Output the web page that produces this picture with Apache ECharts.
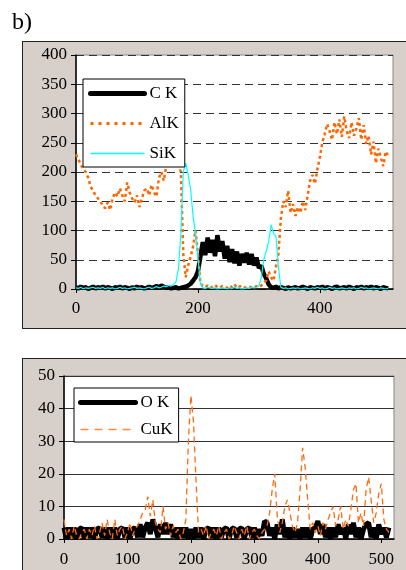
<!DOCTYPE html>
<html>
<head>
<meta charset="utf-8">
<script src="https://cdn.jsdelivr.net/npm/echarts@6/dist/echarts.min.js"></script>
<style>
html,body{margin:0;padding:0;background:#fff;}
#wrap{position:relative;width:406px;height:570px;overflow:hidden;}
.panel{position:absolute;left:22px;width:400px;background:#d7cfc9;border:1.5px solid #222;box-sizing:border-box;}
#main{position:absolute;left:0;top:0;width:406px;height:570px;}
</style>
</head>
<body>
<div id="wrap">
  <div class="panel" style="top:41px;height:288px;"></div>
  <div class="panel" style="top:358px;height:240px;"></div>
  <div id="main"></div>
</div>
<script>
var step = 4; //采样间隔(通道)
var fontName = 'Liberation Serif';

// 上图
var ckData = [
    3,1,4,2,3,0,2,4,1,3,
    2,4,1,3,2,0,3,2,4,1,
    3,2,0,3,1,4,2,3,1,2,
    4,2,3,5,3,6,4,2,3,1,
    2,3,1,2,3,4,6,9,14,20,
    30,55,80,58,88,62,84,56,92,64,
    82,52,74,46,68,44,64,40,60,45,
    62,42,60,40,54,36,40,26,18,8,
    3,2,4,1,3,2,0,3,1,2,
    3,1,2,4,2,0,3,2,1,3,
    2,4,1,3,2,0,3,4,1,2,
    3,1,4,2,0,3,2,4,1,3,
    2,4,1,3,2,0,3,2,1
];
var alkData = [
    230,222,212,205,200,190,175,168,160,155,
    150,142,138,148,135,155,165,158,172,160,
    150,182,165,155,148,160,140,155,168,172,
    160,178,165,158,190,200,185,210,220,215,
    225,220,212,200,60,20,40,55,72,100,
    60,10,5,3,6,2,4,7,3,2,
    5,4,2,6,3,8,2,4,6,3,
    2,4,3,2,5,3,6,10,15,30,
    20,14,38,60,120,150,140,168,130,145,
    125,140,130,150,135,160,185,195,180,205,
    225,250,265,282,270,255,285,265,290,260,
    295,270,258,285,262,275,292,255,280,248,
    262,230,252,215,240,225,210,235,228
];
var sikData = [
    2,1,3,0,2,1,2,3,1,2,
    1,3,0,2,1,2,0,1,3,1,
    2,0,1,2,3,1,2,1,0,2,
    3,1,2,4,2,3,5,4,6,5,
    8,12,35,95,200,215,195,170,125,95,
    55,10,2,1,3,2,1,2,0,1,
    2,1,0,2,1,3,1,2,0,1,
    2,1,3,2,3,5,20,50,65,80,
    110,95,90,38,3,1,2,0,1,2,
    1,2,0,1,2,1,0,2,1,3,
    1,2,0,1,3,1,2,0,1,2,
    1,0,2,1,2,0,1,3,1,2,
    0,1,2,1,0,2,1,0,1
];

// 下图
var okData = [
    3.5,0,3.5,0.5,3.5,0,3,3.5,0,3.5,
    0.5,3.5,0,3,3.5,0.5,3.5,0,3.5,0.5,
    3.5,0,3,3.5,0.5,3.5,0,3,3.5,0.5,
    4.5,0.5,3.5,5,1.5,6,3.5,0.5,4.5,1.5,
    5,1.5,4.5,0.5,3.5,0,3.5,0.5,3.5,0,
    3,0,3.5,0.5,3.5,0,3,3.5,0.5,3.5,
    0,3.5,0.5,3,3.5,0,3,3.5,0.5,3,
    3.5,0,3,3.5,0.5,3.5,0,3,1,5.5,
    5,1,3.5,0,4.5,1.5,6,0.5,3.5,0,
    3.5,0.5,3,0,3.5,0.5,3.5,0,3,3.5,
    5.5,1.5,4.5,0.5,3.5,0,3.5,0.5,4.5,1.5,
    3.5,0,4.5,1.5,5,0.5,3.5,0,3,4.5,
    5,0.5,3.5,0,4.5,1.5,3.5,0.5,3.5
];
var cukData = [
    6,1,3,0,4,1,0,2,3,0,
    3,1,4,0,2,5,1,6,2,0,
    6,1,3,4,0,2,5,1,3,4,
    6,8,9,13,7,12,5,3,2,10,
    3,5,1,4,2,3,0,2,6,30,
    44,36,18,2,3,1,4,0,2,3,
    1,4,0,2,3,0,1,4,2,0,
    3,1,4,0,2,3,1,0,2,3,
    4,8,15,20,7,2,5,10,12,8,
    4,2,5,15,28,22,12,3,5,2,
    4,1,5,3,6,8,10,4,6,10,
    3,6,4,9,15,17,5,8,4,15,
    19,12,5,8,14,17,6,3,2
];

var topX = {max: 520, interval: 200};
var topY = {max: 400, interval: 50};
var botX = {max: 520, interval: 100};
var botY = {max: 50, interval: 10};

function toPairs(arr){
    var out = [];
    for(var i = 0 ; i < arr.length ; i++){
        out.push([i * step, arr[i]]);
    }
    return out;
}

function xAxisOf(idx, cfg, margin){
    return {
        gridIndex: idx, type: 'value', min: 0, max: cfg.max, interval: cfg.interval,
        axisLine: {show: true, onZero: false, lineStyle: {color: '#000', width: 1.5}},
        axisTick: {show: true, length: 4, lineStyle: {color: '#000'}},
        axisLabel: {showMaxLabel: false, margin: margin, color: '#000', fontFamily: fontName, fontSize: 17},
        splitLine: {show: false}
    };
}

function yAxisOf(idx, cfg, lineType){
    return {
        gridIndex: idx, type: 'value', min: 0, max: cfg.max, interval: cfg.interval,
        axisLine: {show: true, lineStyle: {color: '#000', width: 1.5}},
        axisTick: {show: true, length: 5, lineStyle: {color: '#000'}},
        axisLabel: {margin: 9, color: '#000', fontFamily: fontName, fontSize: 17},
        splitLine: {show: true, lineStyle: {color: '#333', width: 1, type: lineType}}
    };
}

var legendBase = {
    orient: 'vertical',
    backgroundColor: '#fff',
    borderColor: '#000',
    borderWidth: 1,
    borderRadius: 0,
    selectedMode: false,
    itemStyle: {opacity: 0, borderWidth: 0},
    textStyle: {fontFamily: fontName, fontSize: 17, color: '#000'}
};

var option = {
    animation: false,
    title: {
        text: 'b)', left: 7, top: 6,
        textStyle: {fontFamily: fontName, fontSize: 24, fontWeight: 'normal', color: '#000'}
    },
    grid: [
        {left: 76, top: 55, width: 317, height: 234, show: true, backgroundColor: '#fff', borderColor: '#888', borderWidth: 1},
        {left: 64, top: 376, width: 330, height: 163, show: true, backgroundColor: '#fff', borderColor: '#888', borderWidth: 1}
    ],
    xAxis: [xAxisOf(0, topX, 11), xAxisOf(1, botX, 12)],
    yAxis: [yAxisOf(0, topY, [8, 5]), yAxisOf(1, botY, 'solid')],
    legend: [
        Object.assign({}, legendBase, {
            left: 83, top: 79, padding: [6, 6, 5, 5],
            itemWidth: 54, itemHeight: 14, itemGap: 13,
            data: [
                {name: 'C K', lineStyle: {width: 5, cap: 'round'}},
                {name: 'AlK', lineStyle: {width: 3, type: [3, 5]}},
                {name: 'SiK', lineStyle: {width: 1.5}}
            ]
        }),
        Object.assign({}, legendBase, {
            left: 74, top: 388, padding: [6, 6, 4, 4],
            itemWidth: 55, itemHeight: 14, itemGap: 10,
            data: [
                {name: 'O K', lineStyle: {width: 5, cap: 'round'}},
                {name: 'CuK', lineStyle: {width: 1.5, type: [8, 6], color: '#ff8a40'}}
            ]
        })
    ],
    series: [
        {name: 'C K', type: 'line', xAxisIndex: 0, yAxisIndex: 0, data: toPairs(ckData), symbol: 'none',
            itemStyle: {color: '#000'}, lineStyle: {color: '#000', width: 4.5}},
        {name: 'AlK', type: 'line', xAxisIndex: 0, yAxisIndex: 0, data: toPairs(alkData), symbol: 'none',
            itemStyle: {color: '#ff6600'}, lineStyle: {color: '#ff6600', width: 2.5, type: [3, 3]}},
        {name: 'SiK', type: 'line', xAxisIndex: 0, yAxisIndex: 0, data: toPairs(sikData), symbol: 'none',
            itemStyle: {color: '#00ffff'}, lineStyle: {color: '#00ffff', width: 1.2}},
        {name: 'O K', type: 'line', xAxisIndex: 1, yAxisIndex: 1, data: toPairs(okData), symbol: 'none',
            itemStyle: {color: '#000'}, lineStyle: {color: '#000', width: 5}},
        {name: 'CuK', type: 'line', xAxisIndex: 1, yAxisIndex: 1, data: toPairs(cukData), symbol: 'none',
            itemStyle: {color: '#ff6a10'}, lineStyle: {color: '#ff6a10', width: 1.3, type: [6, 4]}}
    ]
};

var myCharts = echarts.init(document.getElementById('main'), null, {renderer: 'canvas'});
myCharts.setOption(option);
</script>
</body>
</html>
